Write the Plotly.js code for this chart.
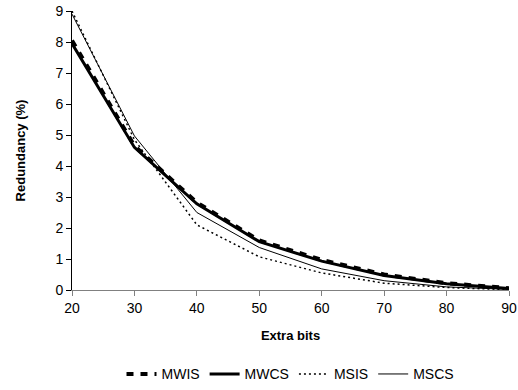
<!DOCTYPE html>
<html>
<head>
<meta charset="utf-8">
<script src="https://cdn.plot.ly/plotly-3.0.1.min.js"></script>
<style>html,body{margin:0;padding:0;background:#fff;}#chart{width:518px;height:390px;}</style>
</head>
<body>
<div id="chart"></div>
<script>
const extraBits = [20, 30, 40, 50, 60, 70, 80, 90];
const mwis = [8.05, 4.65, 2.82, 1.6, 0.97, 0.5, 0.22, 0.06];
const mwcs = [7.95, 4.6, 2.78, 1.56, 0.93, 0.47, 0.2, 0.05];
const msis = [9.0, 4.85, 2.1, 1.07, 0.55, 0.22, 0.08, 0.01];
const mscs = [8.9, 4.97, 2.5, 1.37, 0.68, 0.3, 0.1, 0.02];
const yTicks = [0, 1, 2, 3, 4, 5, 6, 7, 8, 9];
const xTicks = [20, 30, 40, 50, 60, 70, 80, 90];

const traces = [
  {x: extraBits, y: mwis, name: 'MWIS', mode: 'lines', line: {color: '#000', width: 4, dash: '7px,7px'}},
  {x: extraBits, y: mwcs, name: 'MWCS', mode: 'lines', line: {color: '#000', width: 3}},
  {x: extraBits, y: msis, name: 'MSIS', mode: 'lines', line: {color: '#000', width: 1.5, dash: '2px,3px'}},
  {x: extraBits, y: mscs, name: 'MSCS', mode: 'lines', line: {color: '#000', width: 1}}
];

const layout = {
  width: 518, height: 390,
  margin: {l: 72, r: 9, t: 11, b: 100, autoexpand: false},
  paper_bgcolor: '#fff', plot_bgcolor: '#fff',
  font: {family: 'Liberation Sans, Arial, sans-serif', size: 14, color: '#000'},
  showlegend: true,
  legend: {orientation: 'h', x: 0.5, xanchor: 'center', y: -0.245, yanchor: 'top',
           font: {size: 14}, itemwidth: 30, tracegroupgap: 0},
  xaxis: {
    range: [20, 90], tickvals: xTicks, ticks: 'outside', ticklen: 5, tickcolor: '#808080',
    showline: true, linecolor: '#808080', linewidth: 1, showgrid: false, zeroline: false,
    title: {text: '<b>Extra bits</b>', font: {size: 13}, standoff: 16}
  },
  yaxis: {
    range: [0, 9], tickvals: yTicks, ticks: 'outside', ticklen: 5, tickcolor: '#000',
    showline: true, linecolor: '#000', linewidth: 1, showgrid: false, zeroline: false,
    title: {text: '<b>Redundancy (%)</b>', font: {size: 13}, standoff: 26}
  }
};

Plotly.newPlot('chart', traces, layout, {displayModeBar: false, staticPlot: true});
</script>
</body>
</html>
